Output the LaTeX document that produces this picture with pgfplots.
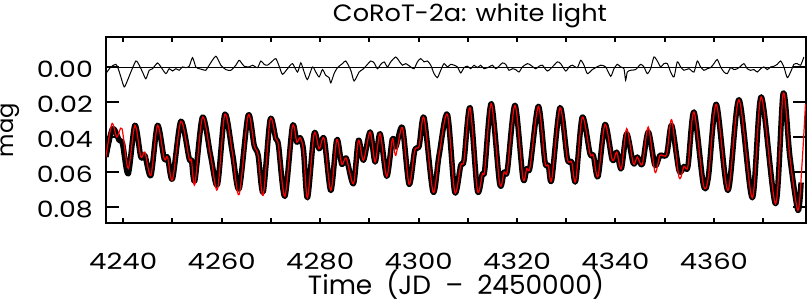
\documentclass[border=0pt]{standalone}
\usepackage{fontspec}
\setmainfont{Poppins}
\usepackage{pgfplots}
\pgfplotsset{compat=1.18}
\usetikzlibrary{calc}
\newcommand{\bigf}{\fontsize{22.5bp}{26bp}\selectfont}
\newcommand{\yl}[1]{\resizebox{56bp}{16.5bp}{#1}}
\newcommand{\xl}[1]{\resizebox{68bp}{16.5bp}{#1}}
\begin{document}
\bigf
\begin{tikzpicture}
\begin{axis}[
  scale only axis, width=700bp, height=186bp,
  xmin=4236.5, xmax=4378.7, ymin=-0.0171, ymax=0.0891, y dir=reverse,
  scaled y ticks=false, scaled x ticks=false,
  xtick={4240,4260,4280,4300,4320,4340,4360},
  xticklabels={\xl{4240},\xl{4260},\xl{4280},\xl{4300},\xl{4320},\xl{4340},\xl{4360}},
  minor xtick={4250,4270,4290,4310,4330,4350,4370},
  ytick={0,0.02,0.04,0.06,0.08},
  yticklabels={\yl{0.00},\yl{0.02},\yl{0.04},\yl{0.06},\yl{0.08}},
  tick align=inside,
  xtick style={line width=2bp, black, /pgfplots/major tick length=5bp, /pgfplots/minor tick length=5bp},
  ytick style={line width=2.5bp, black, /pgfplots/major tick length=13bp},
  axis line style={line width=2.5bp},
  tick label style={font=\bigf},
  xticklabel style={anchor=base, yshift=-46bp, inner sep=0pt},
  yticklabel style={anchor=east, xshift=-13bp, yshift=-2bp, inner sep=0pt},
]
% zero line
\addplot[black, line width=0.8bp] coordinates {(4236.5,0) (4378.7,0)};
% residuals
\addplot[black, line width=1bp, smooth, tension=0.4] coordinates {
(4236.48,0.0038) (4237.49,0.0000) (4238.51,-0.0015) (4238.98,0.0010) (4239.52,0.0057)
(4240.20,0.0114) (4240.88,0.0076) (4241.55,0.0029) (4242.57,-0.0034) (4243.25,-0.0010)
(4243.92,0.0029) (4244.60,0.0067) (4245.28,0.0019) (4245.95,0.0010) (4246.97,-0.0023)
(4247.65,0.0000) (4248.66,0.0038) (4249.34,0.0010) (4250.01,0.0023) (4250.69,0.0010)
(4251.37,0.0019) (4252.04,0.0000) (4252.72,0.0004) (4253.40,-0.0004) (4254.08,-0.0053)
(4254.75,0.0000) (4255.43,0.0010) (4256.11,0.0015) (4256.78,0.0019) (4257.46,-0.0010)
(4258.81,-0.0061) (4259.83,-0.0010) (4260.84,0.0015) (4261.86,0.0019) (4262.87,-0.0010)
(4263.55,-0.0038) (4264.23,-0.0015) (4264.57,-0.0004) (4265.59,0.0000) (4266.26,-0.0010)
(4267.28,0.0004) (4267.95,-0.0034) (4268.63,-0.0015) (4269.31,-0.0010) (4270.32,-0.0034)
(4271.00,-0.0048) (4271.68,-0.0004) (4272.35,0.0042) (4273.37,0.0010) (4274.38,-0.0019)
(4275.40,0.0029) (4276.08,-0.0023) (4276.75,0.0029) (4277.43,0.0072) (4278.44,0.0000)
(4279.12,0.0029) (4279.80,0.0057) (4280.47,0.0015) (4281.15,0.0048) (4281.83,0.0061)
(4282.17,0.0091) (4282.84,0.0038) (4283.52,0.0004) (4284.54,-0.0019) (4285.21,-0.0034)
(4286.23,0.0019) (4286.90,0.0080) (4287.92,0.0029) (4288.60,0.0015) (4289.27,-0.0004)
(4290.29,-0.0034) (4290.97,-0.0023) (4291.64,0.0010) (4292.32,-0.0015) (4293.00,-0.0029)
(4293.67,0.0000) (4294.34,-0.0029) (4295.36,-0.0057) (4296.04,-0.0034) (4296.71,-0.0010)
(4297.39,-0.0019) (4298.40,0.0000) (4299.08,0.0010) (4299.76,-0.0029) (4300.43,-0.0048)
(4301.11,-0.0029) (4301.79,-0.0034) (4302.47,-0.0010) (4303.14,0.0038) (4303.82,0.0061)
(4304.50,0.0019) (4305.17,-0.0019) (4305.85,0.0000) (4306.53,-0.0015) (4307.20,-0.0010)
(4307.88,0.0000) (4308.56,0.0034) (4309.23,0.0004) (4309.91,-0.0004) (4310.59,0.0010)
(4311.26,-0.0010) (4311.94,0.0004) (4312.62,-0.0010) (4313.29,0.0010) (4314.31,0.0000)
(4314.99,-0.0010) (4315.66,0.0010) (4316.34,-0.0004) (4317.02,-0.0023) (4317.69,-0.0015)
(4318.37,0.0019) (4319.05,0.0010) (4319.72,0.0015) (4320.40,0.0029) (4321.08,0.0000)
(4322.10,-0.0019) (4322.77,-0.0010) (4323.79,0.0010) (4324.47,-0.0004) (4325.14,-0.0010)
(4326.16,0.0023) (4327.17,0.0000) (4328.19,-0.0029) (4328.86,-0.0019) (4329.88,0.0023)
(4330.56,0.0000) (4331.23,-0.0010) (4332.25,0.0004) (4332.93,-0.0038) (4333.60,-0.0010)
(4334.28,0.0038) (4335.29,0.0015) (4335.97,0.0004) (4336.99,-0.0010) (4338.00,0.0000)
(4339.02,0.0053) (4339.69,0.0010) (4340.37,-0.0015) (4341.05,0.0000) (4341.72,0.0010)
(4342.06,0.0076) (4342.40,0.0029) (4343.08,0.0019) (4344.09,0.0015) (4345.11,-0.0015)
(4345.78,0.0000) (4346.46,0.0038) (4347.14,0.0010) (4347.81,-0.0057) (4348.49,-0.0034)
(4349.17,0.0000) (4349.84,-0.0019) (4350.53,-0.0019) (4351.20,0.0029) (4351.88,0.0057)
(4352.56,-0.0029) (4353.23,0.0000) (4353.91,0.0019) (4354.93,0.0010) (4355.94,0.0029)
(4356.62,-0.0034) (4357.29,0.0000) (4357.97,0.0019) (4358.65,0.0010) (4359.33,0.0004)
(4360.00,-0.0019) (4360.68,-0.0042) (4361.36,0.0000) (4362.03,0.0029) (4362.71,0.0038)
(4363.39,0.0004) (4364.06,0.0015) (4364.74,0.0010) (4365.42,-0.0004) (4366.09,-0.0019)
(4366.77,0.0010) (4367.45,0.0019) (4368.12,0.0015) (4368.80,0.0029) (4369.48,0.0010)
(4370.15,0.0000) (4370.83,0.0015) (4371.51,0.0000) (4372.18,-0.0004) (4372.86,-0.0015)
(4373.54,-0.0034) (4374.21,0.0000) (4374.89,0.0061) (4375.57,0.0029) (4376.24,-0.0015)
(4376.92,-0.0019) (4377.60,-0.0010) (4378.27,-0.0057)
};
% data (black)
\addplot[black, line width=5.5bp, smooth, line join=round] coordinates {
(4236.48,0.0514) (4237.83,0.0352) (4239.19,0.0419) (4239.86,0.0438) (4241.01,0.0610)
(4242.37,0.0333) (4243.58,0.0514) (4244.40,0.0505) (4245.62,0.0619) (4246.97,0.0333)
(4248.32,0.0524) (4249.00,0.0514) (4250.01,0.0638) (4251.71,0.0310) (4253.40,0.0524)
(4253.87,0.0533) (4254.55,0.0648) (4256.11,0.0286) (4257.80,0.0514) (4259.15,0.0670)
(4260.64,0.0270) (4262.20,0.0495) (4263.55,0.0695) (4265.38,0.0276) (4266.60,0.0448)
(4267.41,0.0505) (4268.43,0.0714) (4269.85,0.0301) (4271.00,0.0410) (4271.54,0.0448)
(4272.83,0.0739) (4274.38,0.0339) (4275.26,0.0429) (4275.94,0.0404) (4276.62,0.0476)
(4277.43,0.0747) (4278.78,0.0381) (4279.80,0.0467) (4280.81,0.0410) (4282.17,0.0705)
(4283.39,0.0415) (4284.40,0.0556) (4285.30,0.0520) (4286.77,0.0667) (4287.78,0.0419)
(4288.80,0.0533) (4290.15,0.0371) (4291.17,0.0543) (4292.18,0.0381) (4293.53,0.0625)
(4294.68,0.0410) (4295.36,0.0457) (4296.71,0.0347) (4298.07,0.0670) (4299.22,0.0476)
(4300.10,0.0453) (4301.11,0.0290) (4302.94,0.0714) (4304.16,0.0505) (4305.85,0.0270)
(4307.34,0.0714) (4308.56,0.0562) (4309.23,0.0533) (4310.45,0.0232) (4311.94,0.0705)
(4312.96,0.0610) (4313.43,0.0590) (4314.78,0.0210) (4316.48,0.0667) (4317.36,0.0600)
(4318.03,0.0590) (4319.59,0.0219) (4321.20,0.0635) (4321.96,0.0581) (4322.64,0.0571)
(4324.33,0.0225) (4325.68,0.0543) (4326.36,0.0562) (4327.04,0.0644) (4328.73,0.0232)
(4330.22,0.0524) (4331.10,0.0543) (4331.91,0.0651) (4333.26,0.0286) (4334.82,0.0495)
(4335.50,0.0505) (4336.45,0.0625) (4337.87,0.0328) (4339.36,0.0533) (4340.24,0.0486)
(4341.18,0.0581) (4342.27,0.0381) (4343.62,0.0552) (4344.43,0.0514) (4345.45,0.0556)
(4346.66,0.0371) (4348.02,0.0562) (4349.03,0.0505) (4350.39,0.0499) (4351.41,0.0333)
(4352.90,0.0590) (4353.91,0.0568) (4354.72,0.0566) (4355.94,0.0257) (4357.84,0.0670)
(4358.85,0.0632) (4360.48,0.0213) (4362.84,0.0705) (4365.08,0.0187) (4367.79,0.0747)
(4369.61,0.0171) (4372.52,0.0781) (4374.08,0.0149) (4375.43,0.0514) (4377.06,0.0819)
(4377.70,0.0660)
};
% model (red)
\addplot[red, line width=1.2bp, smooth] coordinates {
(4236.48,0.0514) (4237.70,0.0324) (4238.70,0.0400) (4239.74,0.0352) (4241.01,0.0580)
(4242.37,0.0333) (4243.58,0.0514) (4244.40,0.0486) (4245.62,0.0619) (4246.97,0.0333)
(4248.32,0.0524) (4249.00,0.0514) (4250.01,0.0644) (4251.71,0.0310) (4253.40,0.0524)
(4253.87,0.0533) (4254.55,0.0670) (4256.11,0.0286) (4257.80,0.0514) (4259.15,0.0699)
(4260.64,0.0270) (4262.20,0.0495) (4263.55,0.0728) (4265.38,0.0276) (4266.60,0.0448)
(4267.41,0.0505) (4268.43,0.0733) (4269.85,0.0301) (4271.00,0.0410) (4271.54,0.0448)
(4272.83,0.0739) (4274.38,0.0339) (4275.26,0.0429) (4275.94,0.0404) (4276.62,0.0476)
(4277.43,0.0747) (4278.78,0.0381) (4279.80,0.0467) (4280.81,0.0410) (4282.17,0.0705)
(4283.39,0.0415) (4284.40,0.0556) (4285.30,0.0520) (4286.77,0.0667) (4287.78,0.0419)
(4288.80,0.0533) (4290.15,0.0371) (4291.17,0.0543) (4292.18,0.0381) (4293.53,0.0625)
(4294.68,0.0410) (4295.36,0.0505) (4296.71,0.0347) (4298.07,0.0670) (4299.22,0.0476)
(4300.10,0.0453) (4301.11,0.0290) (4302.94,0.0714) (4304.16,0.0505) (4305.85,0.0270)
(4307.34,0.0714) (4308.56,0.0562) (4309.23,0.0533) (4310.45,0.0232) (4311.94,0.0705)
(4312.96,0.0610) (4313.43,0.0590) (4314.78,0.0210) (4316.48,0.0667) (4317.36,0.0600)
(4318.03,0.0590) (4319.59,0.0219) (4321.20,0.0635) (4321.96,0.0581) (4322.64,0.0571)
(4324.33,0.0225) (4325.68,0.0543) (4326.36,0.0562) (4327.04,0.0644) (4328.73,0.0232)
(4330.22,0.0524) (4331.10,0.0543) (4331.91,0.0651) (4333.26,0.0286) (4334.82,0.0495)
(4335.50,0.0505) (4336.45,0.0625) (4337.87,0.0328) (4339.36,0.0533) (4340.24,0.0486)
(4341.18,0.0581) (4342.27,0.0352) (4343.62,0.0552) (4344.43,0.0514) (4345.45,0.0556)
(4346.66,0.0343) (4348.02,0.0600) (4349.03,0.0505) (4350.39,0.0499) (4351.41,0.0301)
(4352.90,0.0629) (4353.91,0.0568) (4354.72,0.0566) (4355.94,0.0257) (4357.84,0.0670)
(4358.85,0.0632) (4360.48,0.0213) (4362.84,0.0705) (4365.08,0.0187) (4367.79,0.0747)
(4369.61,0.0171) (4372.52,0.0781) (4374.08,0.0149) (4375.43,0.0514) (4377.06,0.0819)
(4377.90,0.0550) (4378.60,0.0210)
};
\end{axis}
\node[rotate=90] at ($(current axis.west)+(-96bp,0)$) {\resizebox{54bp}{!}{mag}};
\node[anchor=base, inner sep=0pt] at ($(current axis.north)+(14bp,15bp)$) {\resizebox{274bp}{18bp}{CoRoT-2a: white light}};
\node[anchor=base, inner sep=0pt] at ($(current axis.south)+(0,-71bp)$) {\resizebox{296bp}{!}{Time\ \ (JD\ \ –\ \ 2450000)}};
\pgfresetboundingbox
\path ($(current axis.south west)+(-106bp,-82bp)$) rectangle ($(current axis.north east)+(2bp,37bp)$);
\end{tikzpicture}
\end{document}
